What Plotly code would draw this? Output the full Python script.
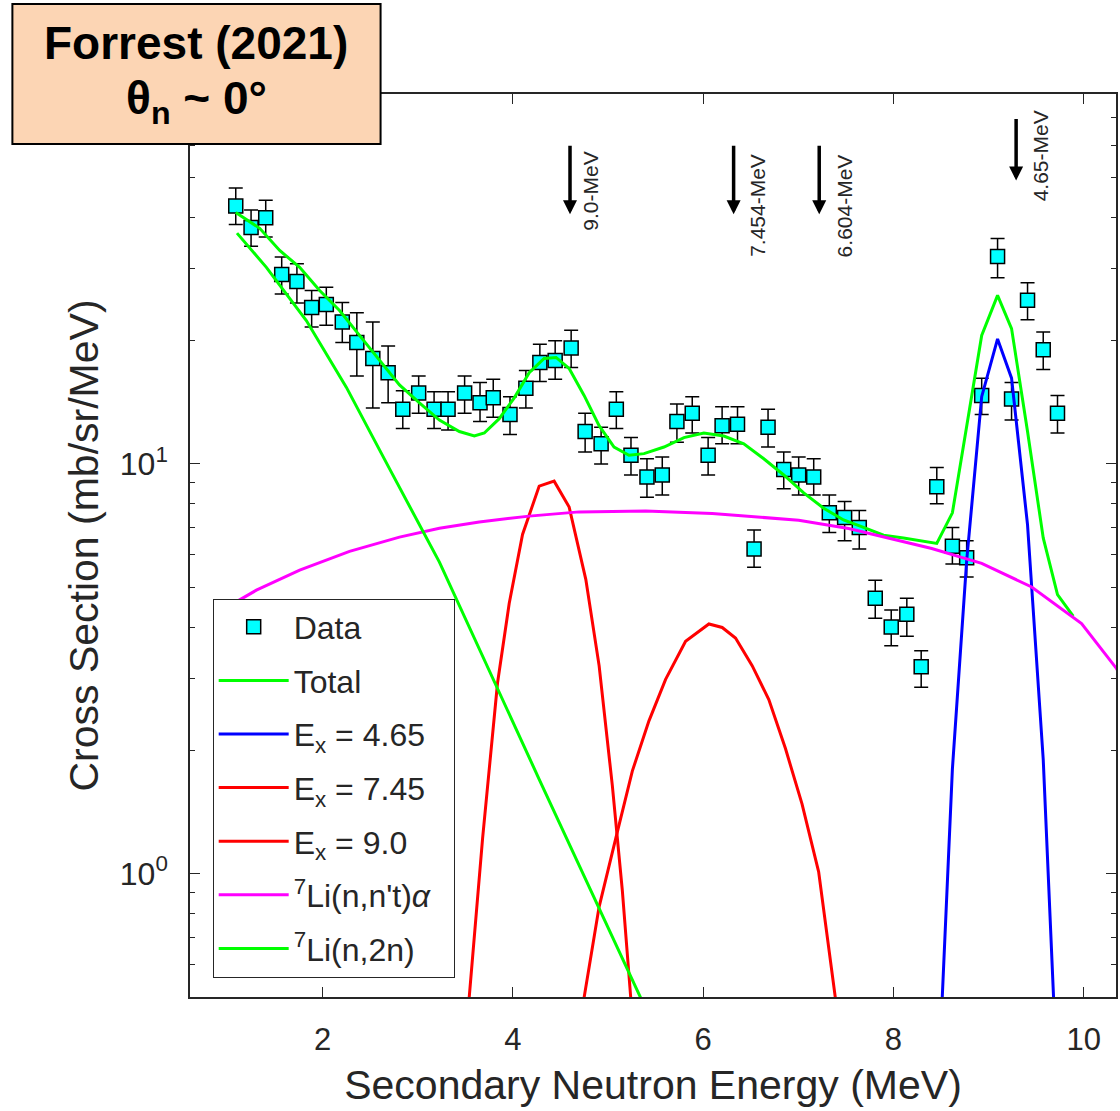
import numpy as np
import plotly.graph_objects as go

# ---------------- data ----------------
energy = [1.086, 1.247, 1.401, 1.569, 1.729, 1.884, 2.038, 2.206, 2.359, 2.527,
          2.688, 2.842, 3.009, 3.171, 3.318, 3.492, 3.654, 3.793, 3.969, 4.136,
          4.283, 4.444, 4.612, 4.759, 4.927, 5.087, 5.241, 5.409, 5.570, 5.724,
          5.885, 6.052, 6.199, 6.361, 6.535, 6.682, 6.847, 7.004, 7.162, 7.326,
          7.487, 7.641, 7.809, 7.977, 8.141, 8.292, 8.456, 8.620, 8.770, 8.928,
          9.095, 9.242, 9.410, 9.575, 9.725]
xs = [42.6, 37.8, 39.9, 29.0, 27.9, 24.1, 24.5, 22.2, 19.8, 18.1,
      16.7, 13.6, 14.9, 13.6, 13.6, 14.9, 14.1, 14.5, 13.2, 15.3,
      17.7, 17.9, 19.2, 12.0, 11.2, 13.6, 10.5, 9.3, 9.4, 12.7,
      13.3, 10.5, 12.4, 12.5, 6.2, 12.3, 9.7, 9.4, 9.3, 7.6,
      7.4, 7.0, 4.7, 4.0, 4.3, 3.2, 8.8, 6.3, 5.9, 14.7,
      32.1, 14.4, 25.1, 19.0, 13.3]
xs_upper = [47.2, 41.7, 44.0, 32.0, 30.8, 26.5, 27.0, 24.8, 23.4, 22.2,
            19.4, 15.1, 16.4, 15.0, 15.0, 16.4, 15.8, 16.1, 14.6, 16.9,
            19.6, 20.0, 21.2, 13.3, 12.3, 15.0, 11.6, 10.3, 10.4, 14.0,
            14.6, 11.6, 13.8, 13.8, 6.9, 13.6, 10.7, 10.4, 10.3, 8.4,
            8.1, 7.7, 5.2, 4.4, 4.7, 3.5, 9.8, 7.0, 6.5, 16.2,
            35.5, 15.8, 27.7, 21.0, 14.7]
xs_lower = [38.4, 34.0, 35.8, 26.0, 24.7, 21.6, 21.8, 19.8, 16.4, 13.7,
            14.1, 12.2, 13.3, 12.2, 12.1, 13.3, 12.7, 13.0, 11.8, 13.7,
            15.9, 16.1, 17.2, 10.7, 10.0, 12.2, 9.4, 8.3, 8.4, 11.3,
            11.9, 9.4, 11.2, 11.2, 5.6, 11.0, 8.7, 8.4, 8.4, 6.8,
            6.5, 6.2, 4.2, 3.6, 3.8, 2.85, 8.0, 5.7, 5.3, 13.2,
            28.5, 12.8, 22.5, 17.0, 11.9]

total_x = [1.086, 1.338, 1.548, 1.758, 1.968, 2.177, 2.387, 2.597, 2.807, 3.017,
           3.227, 3.437, 3.594, 3.699, 3.856, 4.014, 4.171, 4.328, 4.454, 4.591,
           4.748, 4.906, 5.063, 5.220, 5.378, 5.588, 5.798, 6.007, 6.217, 6.427,
           6.637, 6.847, 7.057, 7.267, 7.476, 7.686, 7.896, 8.106, 8.456, 8.620,
           8.770, 8.928, 9.095, 9.242, 9.410, 9.575, 9.725, 9.890]
total_y = [41.1, 37.6, 33.2, 30.2, 26.5, 23.7, 20.6, 17.9, 15.6, 14.1,
           12.8, 12.0, 11.7, 11.9, 12.9, 14.5, 16.7, 18.1, 18.2, 17.1,
           14.7, 12.4, 11.0, 10.5, 10.6, 11.0, 11.6, 11.9, 11.7, 11.2,
           10.3, 9.4, 8.5, 7.8, 7.3, 7.0, 6.7, 6.6, 6.4, 7.6,
           12.4, 20.6, 25.8, 21.4, 12.0, 6.6, 4.8, 4.25]

ex465_x = [8.456, 8.620, 8.770, 8.928, 9.095, 9.242, 9.410, 9.575, 9.725]
ex465_y = [0.25, 1.8, 5.8, 14.6, 20.2, 16.2, 7.1, 1.9, 0.3]

ex745_x = [4.68, 4.748, 4.906, 5.081, 5.255, 5.430, 5.605, 5.815, 6.060, 6.200,
           6.340, 6.515, 6.690, 6.865, 7.039, 7.214, 7.389, 7.45]
ex745_y = [0.40, 0.50, 0.83, 1.22, 1.78, 2.36, 2.98, 3.69, 4.07, 3.99,
           3.76, 3.22, 2.66, 2.02, 1.48, 1.01, 0.50, 0.39]

ex90_x = [3.48, 3.541, 3.681, 3.838, 3.961, 4.101, 4.276, 4.433, 4.591, 4.766,
          4.906, 5.045, 5.150, 5.238, 5.30]
ex90_y = [0.34, 0.50, 1.22, 2.92, 4.57, 6.73, 8.83, 9.08, 7.85, 5.23,
          3.22, 1.64, 0.91, 0.50, 0.33]

nnt_x = [1.086, 1.303, 1.758, 2.282, 2.807, 3.227, 3.646, 4.171, 4.696, 5.396,
         6.095, 7.004, 7.529, 7.878, 8.403, 8.928, 9.453, 9.978, 10.34, 10.40]
nnt_y = [4.60, 4.92, 5.51, 6.12, 6.63, 6.97, 7.22, 7.46, 7.64, 7.68,
         7.57, 7.29, 6.96, 6.65, 6.22, 5.72, 5.01, 4.08, 3.18, 3.02]

n2n_x = [1.099, 1.408, 1.828, 2.248, 2.702, 3.227, 4.276, 5.343, 5.45]
n2n_y = [36.6, 30.2, 22.4, 15.4, 9.74, 5.76, 1.70, 0.50, 0.44]

arrow_x = [4.60, 6.32, 7.22, 9.29]
arrow_tip = [40.7, 40.7, 40.7, 49.2]
arrow_labels = ["9.0-MeV", "7.454-MeV", "6.604-MeV", "4.65-MeV"]

x_ticks = [2, 4, 6, 8, 10]
y_ticks = [1, 10]
y_ticktext = ["10<sup>0</sup>", "10<sup>1</sup>"]
y_minor = [0.5, 0.6, 0.7, 0.8, 0.9, 2, 3, 4, 5, 6, 7, 8, 9, 20, 30, 40, 50, 60, 70, 80]

# ---------------- figure ----------------
FONT = "Arial, Liberation Sans, sans-serif"
AX = "#262626"

err_plus = [u - v for u, v in zip(xs_upper, xs)]
err_minus = [v - l for v, l in zip(xs, xs_lower)]

fig = go.Figure()
fig.add_trace(go.Scatter(
    x=energy, y=xs, mode="markers", name="Data", legendgroup="a",
    marker=dict(symbol="square", size=14, color="#00FFFF",
                line=dict(color="black", width=1.5)),
    error_y=dict(type="data", symmetric=False, array=err_plus, arrayminus=err_minus,
                 color="black", thickness=1.5, width=7),
))
lines = [
    (total_x, total_y, "#00FF00", "Total", "b"),
    (ex465_x, ex465_y, "#0000FF", "E<sub>x</sub> = 4.65", "c"),
    (ex745_x, ex745_y, "#FF0000", "E<sub>x</sub> = 7.45", "d"),
    (ex90_x, ex90_y, "#FF0000", "E<sub>x</sub> = 9.0", "e"),
    (nnt_x, nnt_y, "#FF00FF", "<sup>7</sup>Li(n,n't)<i>α</i>&#160;&#160;", "f"),
    (n2n_x, n2n_y, "#00FF00", "<sup>7</sup>Li(n,2n)", "g"),
]
for x, y, c, name, grp in lines:
    fig.add_trace(go.Scatter(x=x, y=y, mode="lines", name=name, legendgroup=grp,
                             line=dict(color=c, width=3)))

annotations = []
for ax_, tip, lab in zip(arrow_x, arrow_tip, arrow_labels):
    L = float(np.log10(tip))
    length = 63 if ax_ > 9 else 70
    annotations.append(dict(x=ax_, y=L, xref="x", yref="y", text="", showarrow=True,
                            ax=0, ay=-length, arrowhead=2, arrowsize=0.8, arrowwidth=3.5,
                            arrowcolor="black", standoff=0, startstandoff=0))
label_pos = [(4.82, 1.667), (6.57, 1.631), (7.49, 1.631), (9.55, 1.753)]
for (lx, ly), lab in zip(label_pos, arrow_labels):
    annotations.append(dict(x=lx, y=ly, xref="x", yref="y", text=lab, showarrow=False,
                            textangle=-90, font=dict(family=FONT, size=21, color=AX)))

# title box
annotations.append(dict(x=0.0065, y=1.0565, xref="paper", yref="paper",
                        text="<b>Forrest (2021)</b>", showarrow=False,
                        xanchor="center", yanchor="middle",
                        font=dict(family=FONT, size=46, color="black")))
annotations.append(dict(x=0.0065, y=0.992, xref="paper", yref="paper",
                        text="<b>θ<sub>n</sub> ~ 0°</b>", showarrow=False,
                        xanchor="center", yanchor="middle",
                        font=dict(family=FONT, size=46, color="black")))

shapes = [dict(type="rect", xref="paper", yref="paper", x0=-0.1918, x1=0.2058,
               y0=0.9446, y1=1.0997, fillcolor="#FCD5B4",
               line=dict(color="black", width=2), layer="above")]

fig.update_layout(
    width=1120, height=1111,
    margin=dict(l=190, r=2, t=94, b=114),
    paper_bgcolor="white", plot_bgcolor="white",
    font=dict(family=FONT, color=AX),
    showlegend=True,
    legend=dict(x=0.0245, y=0.4413, xanchor="left", yanchor="top",
                bgcolor="white", bordercolor=AX, borderwidth=1,
                font=dict(family=FONT, size=32, color=AX),
                itemwidth=70, tracegroupgap=9, traceorder="grouped"),
    annotations=annotations,
    shapes=shapes,
    xaxis=dict(range=[0.605, 10.34], tickvals=x_ticks, ticks="inside", ticklen=10,
               tickwidth=1.2, tickcolor=AX, showline=True, linecolor=AX, linewidth=1.5,
               mirror="ticks", showgrid=False, zeroline=False,
               tickfont=dict(family=FONT, size=31, color=AX), ticklabelstandoff=14,
               title=dict(text="Secondary Neutron Energy (MeV)", standoff=14,
                          font=dict(family=FONT, size=41, color=AX))),
    yaxis=dict(type="log", range=[float(np.log10(0.5)), float(np.log10(80))],
               tickvals=y_ticks, ticktext=y_ticktext, ticks="inside", ticklen=10,
               tickwidth=1.2, tickcolor=AX, showline=True, linecolor=AX, linewidth=1.5,
               mirror="ticks", showgrid=False, zeroline=False,
               minor=dict(tickvals=y_minor, ticks="inside", ticklen=5, tickcolor=AX,
                          tickwidth=1, showgrid=False),
               tickfont=dict(family=FONT, size=32, color=AX), ticklabelstandoff=14,
               title=dict(text="Cross Section (mb/sr/MeV)", standoff=8,
                          font=dict(family=FONT, size=41, color=AX))),
)

fig.write_html("out.html")
